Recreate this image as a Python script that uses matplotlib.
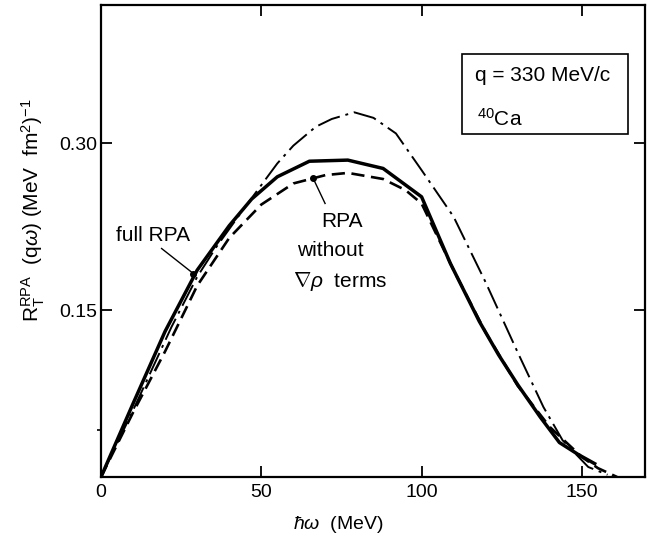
import numpy as np
import matplotlib
matplotlib.use("Agg")
import matplotlib.pyplot as plt
from matplotlib.patches import Rectangle

plt.rcParams['font.family'] = ['Liberation Sans', 'DejaVu Sans']
plt.rcParams['mathtext.fontset'] = 'custom'
plt.rcParams['mathtext.rm'] = 'Liberation Sans'
plt.rcParams['mathtext.it'] = 'Liberation Sans:italic'

# hbar*omega (MeV) and R_T (MeV fm^2)^-1
w_full = [0, 10, 20, 30, 40, 47, 55, 65, 77, 88, 100, 109, 118, 124, 130, 137, 143, 149, 154]
r_full = [0, 0.066, 0.131, 0.186, 0.226, 0.250, 0.270, 0.284, 0.285, 0.2775, 0.252,
          0.192, 0.140, 0.110, 0.083, 0.054, 0.031, 0.020, 0.012]

w_nograd = [0, 10, 20, 30, 40, 50, 60, 70, 77, 88, 95, 100, 110, 120, 130, 140, 150, 155, 161]
r_nograd = [0, 0.058, 0.113, 0.172, 0.215, 0.245, 0.264, 0.2715, 0.2735, 0.268, 0.258,
            0.246, 0.186, 0.130, 0.082, 0.045, 0.018, 0.008, 0.0]

w_dd = [0, 10, 22, 30, 36, 45, 55, 60, 67, 72, 79, 85, 92, 100, 110, 120, 130, 138, 144, 152, 158]
r_dd = [0, 0.060, 0.135, 0.180, 0.207, 0.243, 0.282, 0.298, 0.315, 0.322, 0.328, 0.323,
        0.309, 0.276, 0.234, 0.175, 0.112, 0.063, 0.033, 0.009, 0.002]

xticks = [0, 50, 100, 150]
yticks = [0.15, 0.30]

fig = plt.figure(figsize=(6.47, 5.38), dpi=100)
ax = fig.add_axes([101/647, 1 - 477/538, 544/647, 472/538])

ax.plot(w_dd, r_dd, color='black', lw=1.4, dashes=(12, 3, 1.5, 3))
ax.plot(w_nograd, r_nograd, color='black', lw=1.9, dashes=(5, 2.5))
ax.plot(w_full, r_full, color='black', lw=2.5)

ax.set_xlim(0, 169.7)
ax.set_ylim(0, 0.4245)
ax.set_xticks(xticks)
ax.set_xticklabels([str(t) for t in xticks])
ax.set_yticks(yticks)
ax.set_yticklabels(['0.15', '0.30'])
ax.set_yticks([0.042], minor=True)
ax.tick_params(axis='both', which='major', direction='in', length=8, width=1.3,
               labelsize=14, top=True, right=True)
ax.tick_params(axis='x', which='major', pad=5)
ax.tick_params(axis='y', which='major', pad=3)
ax.tick_params(axis='y', which='minor', direction='out', length=3, width=1.2)
for s in ax.spines.values():
    s.set_linewidth(1.6)

ax.set_xlabel(r'$\hbar\omega$  (MeV)', fontsize=14)
ax.xaxis.set_label_coords(0.436, -0.078)
ax.set_ylabel(r'R$_\mathrm{T}^\mathrm{RPA}$  (q$\omega$) (MeV  fm$^2$)$^{-1}$', fontsize=15)
ax.yaxis.set_label_coords(-0.10, 0.565)

# labelled box
ax.add_patch(Rectangle((0.664, 0.7275), 0.304, 0.168, transform=ax.transAxes,
                       fill=False, lw=1.2, ec='black'))
ax.text(0.811, 0.851, 'q = 330 MeV/c', transform=ax.transAxes, fontsize=15,
        ha='center', va='center')
ax.text(0.692, 0.759, r'$^{40}$Ca', transform=ax.transAxes, fontsize=15,
        ha='left', va='center')

# curve labels with pointers
ax.text(16.3, 0.2175, 'full RPA', fontsize=15, ha='center', va='center')
ax.plot([18.9, 28.8], [0.2055, 0.183], color='black', lw=1)
ax.plot([28.8], [0.183], 'o', color='black', ms=4)

ax.text(75.1, 0.2295, 'RPA', fontsize=15, ha='center', va='center')
ax.text(71.5, 0.204, 'without', fontsize=15, ha='center', va='center')
ax.text(74.6, 0.1755, r'$\nabla\rho$  terms', fontsize=15, ha='center', va='center')
ax.plot([69.9, 66.2], [0.246, 0.2685], color='black', lw=1)
ax.plot([66.2], [0.2685], 'o', color='black', ms=4)

fig.savefig('out.png', dpi=100)
